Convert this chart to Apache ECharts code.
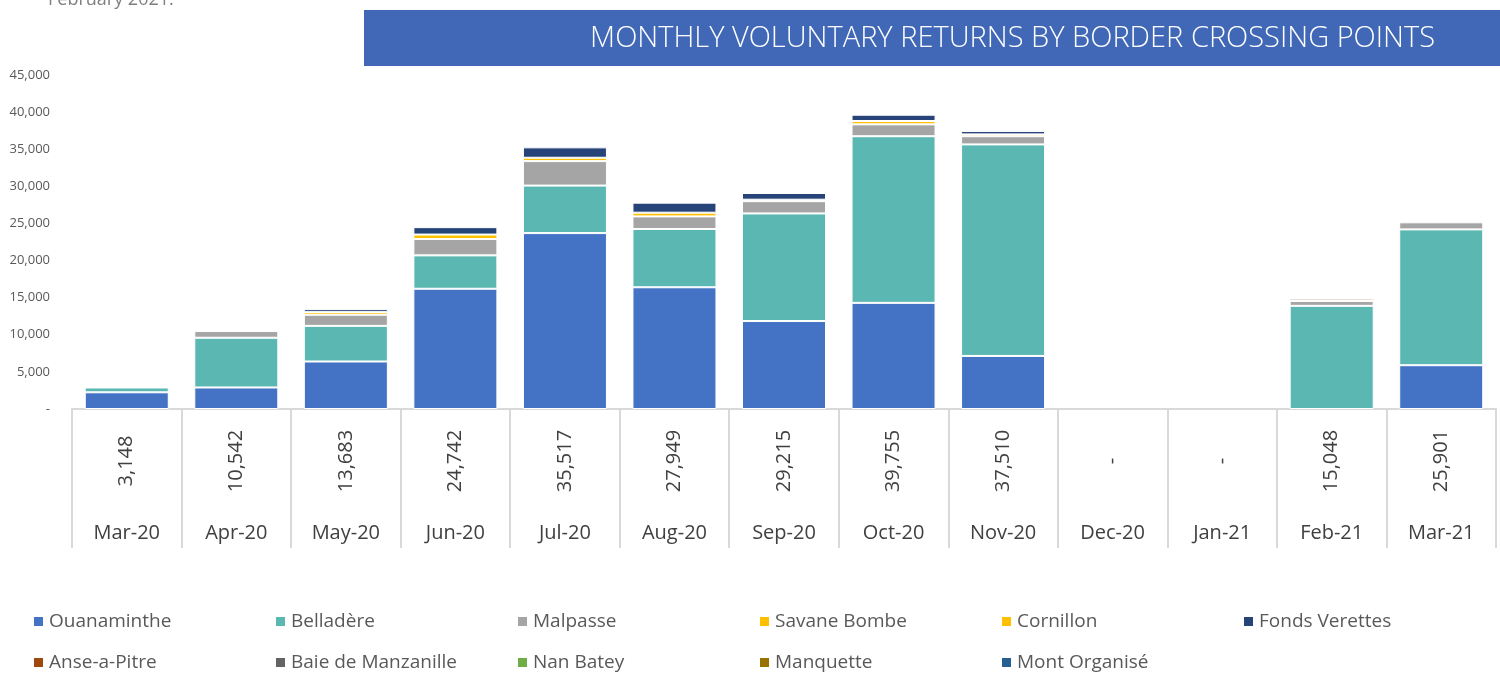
<!DOCTYPE html>
<html>
<head>
<meta charset="utf-8">
<script src="https://cdn.jsdelivr.net/npm/echarts@6/dist/echarts.min.js"></script>
<style>
  html, body { margin: 0; padding: 0; background: #fff; }
  #chart { width: 1500px; height: 673px; }
</style>
</head>
<body>
<div id="chart"></div>
<script>
const months = ['Mar-20', 'Apr-20', 'May-20', 'Jun-20', 'Jul-20', 'Aug-20', 'Sep-20', 'Oct-20', 'Nov-20', 'Dec-20', 'Jan-21', 'Feb-21', 'Mar-21']
const totals = [3148, 10542, 13683, 24742, 35517, 27949, 29215, 39755, 37510, 0, 0, 15048, 25901]

const ouanaminthe = [2250, 2900, 6400, 16200, 23700, 16400, 11850, 14300, 7150, 0, 0, 0, 5900]
const belladere = [650, 6700, 4800, 4500, 6400, 7850, 14500, 22450, 28500, 0, 0, 13900, 18300]
const malpasse = [0, 900, 1500, 2200, 3300, 1700, 1650, 1600, 1100, 0, 0, 650, 950]
const savaneBombe = [0, 0, 350, 600, 450, 500, 200, 450, 250, 0, 0, 0, 0]
const cornillon = [0, 0, 0, 0, 0, 0, 0, 0, 0, 0, 0, 0, 0]
const fondsVerettes = [0, 0, 400, 1000, 1400, 1350, 900, 850, 450, 0, 0, 0, 0]
const anseAPitre = [0, 0, 0, 0, 0, 0, 0, 0, 0, 0, 0, 300, 0]
const baieDeManzanille = [0, 0, 0, 0, 0, 0, 0, 0, 0, 0, 0, 0, 0]
const nanBatey = [0, 0, 0, 150, 0, 0, 0, 0, 0, 0, 0, 0, 0]
const manquette = [0, 0, 0, 0, 0, 0, 0, 0, 0, 0, 0, 0, 0]
const montOrganise = [0, 0, 0, 0, 0, 0, 0, 0, 0, 0, 0, 0, 0]

const seriesDefs = [
  { name: 'Ouanaminthe', data: ouanaminthe, color: '#4472C4' },
  { name: 'Belladère', data: belladere, color: '#5BB7B1' },
  { name: 'Malpasse', data: malpasse, color: '#A5A5A5' },
  { name: 'Savane Bombe', data: savaneBombe, color: '#FFC000' },
  { name: 'Cornillon', data: cornillon, color: '#FFC000' },
  { name: 'Fonds Verettes', data: fondsVerettes, color: '#264478' },
  { name: 'Anse-a-Pitre', data: anseAPitre, color: '#9E480E' },
  { name: 'Baie de Manzanille', data: baieDeManzanille, color: '#636363' },
  { name: 'Nan Batey', data: nanBatey, color: '#70AD47' },
  { name: 'Manquette', data: manquette, color: '#997300' },
  { name: 'Mont Organisé', data: montOrganise, color: '#255E91' },
]

const fmt = (v) => (v === 0 ? '-' : v.toLocaleString('en-US'))
const font = 'Open Sans'

const chart = echarts.init(document.getElementById('chart'))

const option = {
  animation: false,
  textStyle: { fontFamily: font },
  grid: { left: 72, right: 4, top: 75, bottom: 264 },
  legend: {
    left: 27,
    top: 601,
    width: 1460,
    icon: 'rect',
    itemWidth: 11,
    itemHeight: 11,
    itemGap: 10,
    data: seriesDefs.map((s) => s.name),
    textStyle: {
      fontFamily: font,
      fontSize: 19,
      color: '#595959',
      width: 215,
      lineHeight: 31,
    },
  },
  xAxis: [
    {
      type: 'category',
      data: months,
      axisLine: { lineStyle: { color: '#D9D9D9', width: 2 } },
      axisTick: { show: true, length: 139, interval: 0, lineStyle: { color: '#D9D9D9', width: 2 } },
      axisLabel: { interval: 0, margin: 114, fontSize: 20, color: '#404040', fontFamily: font },
    },
    {
      type: 'category',
      data: totals.map(fmt),
      position: 'bottom',
      axisLine: { show: false },
      axisTick: { show: false },
      axisLabel: {
        interval: 0,
        rotate: 90,
        align: 'center',
        verticalAlign: 'middle',
        margin: 52,
        fontSize: 20,
        color: '#404040',
        fontFamily: font,
      },
    },
  ],
  yAxis: {
    type: 'value',
    min: 0,
    max: 45000,
    interval: 5000,
    splitLine: { show: false },
    axisLine: { show: false },
    axisTick: { show: false },
    axisLabel: { formatter: fmt, fontSize: 13, color: '#595959', margin: 22, fontFamily: font },
  },
  graphic: [
    {
      type: 'text',
      left: 48,
      top: -9,
      style: { text: 'February 2021.', fontSize: 18, fill: '#7F7F7F', fontFamily: font },
    },
    {
      type: 'rect',
      shape: { x: 364, y: 10, width: 1136, height: 56 },
      style: { fill: '#4068B7' },
    },
    {
      type: 'text',
      x: 1435,
      y: 39,
      style: {
        text: 'MONTHLY VOLUNTARY RETURNS BY BORDER CROSSING POINTS',
        fontSize: 29,
        fontWeight: 300,
        fontFamily: font,
        fill: '#ffffff',
        align: 'right',
        verticalAlign: 'middle',
      },
    },
  ],
  series: seriesDefs.map((s) => ({
    name: s.name,
    type: 'bar',
    stack: 'total',
    barWidth: 84,
    data: s.data.map((v) => (v === 0 ? '-' : v)),
    itemStyle: { color: s.color, borderColor: '#ffffff', borderWidth: 1 },
  })),
}

chart.setOption(option)
</script>
</body>
</html>
